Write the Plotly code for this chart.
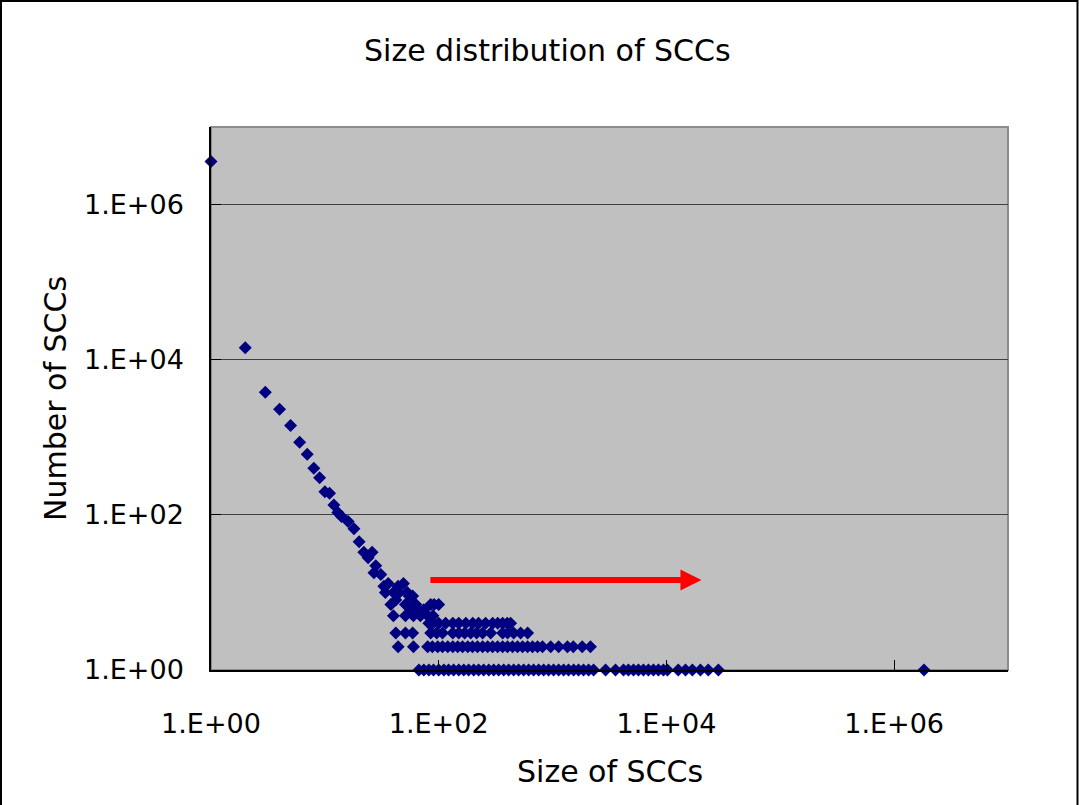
import math
import plotly.graph_objects as go

# ---- data ----
# steep part of the distribution (size, count)
curve_sizes = [1, 2, 3, 4, 5, 6, 7, 8, 9, 10, 11, 12, 13, 14, 16, 18, 20, 22, 24, 26, 28]
curve_counts = [3590000, 14300, 3800, 2290, 1420, 860, 605, 400, 300, 198, 190, 134,
                107, 95, 82, 66, 45, 33, 28, 33, 22]

# scattered cluster around sizes 25-100
cluster_sizes = [27, 31, 33, 36, 44, 49, 34, 40, 45, 53, 55, 59, 42, 38, 51, 60, 63, 85,
                 91, 100, 57, 66, 74, 40, 51, 60, 69, 80, 89]
cluster_counts = [18, 17, 12, 13, 12, 13, 10, 10, 10, 10, 9, 9, 8, 7, 7, 7, 7, 7,
                  7, 7, 6, 6, 6, 5, 5, 5, 5, 5, 5]

# rows of small counts
row4_sizes = [82, 89, 100, 115, 133, 150, 173, 199, 224, 258, 298, 330, 364, 400, 428]
row3_sizes = [42, 51, 59, 85, 96, 108, 133, 150, 169, 191, 215, 243, 286, 364, 403,
              455, 524, 604]
row2_sizes = [44, 60, 80, 88, 98, 108, 120, 133, 147, 162, 180, 198, 219, 243, 269,
              297, 329, 364, 402, 445, 492, 545, 603, 666, 737, 815, 963, 1130, 1350,
              1520, 1820, 2150]
row1_sizes = [67, 74, 82, 90, 100, 111, 122, 135, 150, 166, 183, 203, 224, 248, 275,
              304, 336, 372, 411, 455, 503, 557, 616, 681, 754, 834, 922, 1020, 1130,
              1250, 1380, 1530, 1690, 1870, 2070, 2290, 2920, 3570, 4200, 4640, 5140,
              5680, 6280, 6950, 7690, 8510, 9410, 10200, 12700, 14700, 16900, 19900,
              23300, 28600, 1830000]

tick_values = [1, 100, 10000, 1000000]
tick_labels = ["1.E+00", "1.E+02", "1.E+04", "1.E+06"]

# red arrow annotation (size, count)
arrow_tail_size = 82
arrow_tip_size = 20300
arrow_count = 14.5

# ---- assemble ----
xs = (curve_sizes + cluster_sizes + row4_sizes + row3_sizes + row2_sizes + row1_sizes)
ys = (curve_counts + cluster_counts + [4] * len(row4_sizes) + [3] * len(row3_sizes)
      + [2] * len(row2_sizes) + [1] * len(row1_sizes))

FONT = "DejaVu Sans"

fig = go.Figure()
fig.add_trace(go.Scatter(
    x=xs, y=ys, mode="markers",
    marker=dict(symbol="diamond", color="#000080", size=10, line=dict(width=0)),
    cliponaxis=False, showlegend=False, hoverinfo="x+y",
))

L, R, T, B = 211, 71, 127, 135
W, H = 1079, 805
pw, ph = W - L - R, H - T - B

def px_to_paper_x(px):
    return (px - L) / pw

def py_to_paper_y(py):
    return (H - B - py) / ph

fig.update_layout(
    width=W, height=H,
    margin=dict(l=L, r=R, t=T, b=B, pad=0),
    paper_bgcolor="white",
    plot_bgcolor="#C0C0C0",
    font=dict(family=FONT, color="black", size=27),
    xaxis=dict(
        type="log", range=[0, 7], showgrid=False, zeroline=False,
        showline=True, linecolor="black", linewidth=1.5,
        ticks="inside", ticklen=10, tickcolor="black", tickwidth=1.2,
        tickmode="array", tickvals=tick_values, ticktext=tick_labels,
        tickfont=dict(family=FONT, size=27, color="black"),
        ticklabelstandoff=29,
    ),
    yaxis=dict(
        type="log", range=[0, 7], showgrid=True, gridcolor="#404040", gridwidth=1.2,
        zeroline=False,
        showline=True, linecolor="black", linewidth=1.5,
        ticks="inside", ticklen=10, tickcolor="black", tickwidth=1.2,
        tickmode="array", tickvals=tick_values, ticktext=tick_labels,
        tickfont=dict(family=FONT, size=27, color="black"),
        ticklabelstandoff=20,
    ),
    shapes=[
        dict(type="rect", xref="paper", yref="paper", x0=0, x1=1, y0=0, y1=1,
             line=dict(color="#8c8c8c", width=2), layer="below"),
        dict(type="rect", xref="paper", yref="paper",
             x0=px_to_paper_x(1), x1=px_to_paper_x(1077.5),
             y0=py_to_paper_y(807), y1=py_to_paper_y(1),
             line=dict(color="black", width=2)),
    ],
    annotations=[
        dict(text="Size distribution of SCCs", xref="paper", yref="paper",
             x=px_to_paper_x(547), y=py_to_paper_y(50), showarrow=False,
             xanchor="center", yanchor="middle", font=dict(family=FONT, size=30)),
        dict(text="Size of SCCs", xref="paper", yref="paper",
             x=px_to_paper_x(610), y=py_to_paper_y(771), showarrow=False,
             xanchor="center", yanchor="middle", font=dict(family=FONT, size=30)),
        dict(text="Number of SCCs", xref="paper", yref="paper",
             x=px_to_paper_x(55), y=py_to_paper_y(399), showarrow=False, textangle=-90,
             xanchor="center", yanchor="middle", font=dict(family=FONT, size=30)),
        dict(text="", xref="x", yref="y", axref="x", ayref="y",
             x=math.log10(arrow_tip_size), y=math.log10(arrow_count),
             ax=math.log10(arrow_tail_size), ay=math.log10(arrow_count),
             showarrow=True, arrowhead=2, arrowsize=0.7, arrowwidth=6,
             arrowcolor="#FF0000", standoff=0, startstandoff=0),
    ],
)

fig.write_html("out.html")
